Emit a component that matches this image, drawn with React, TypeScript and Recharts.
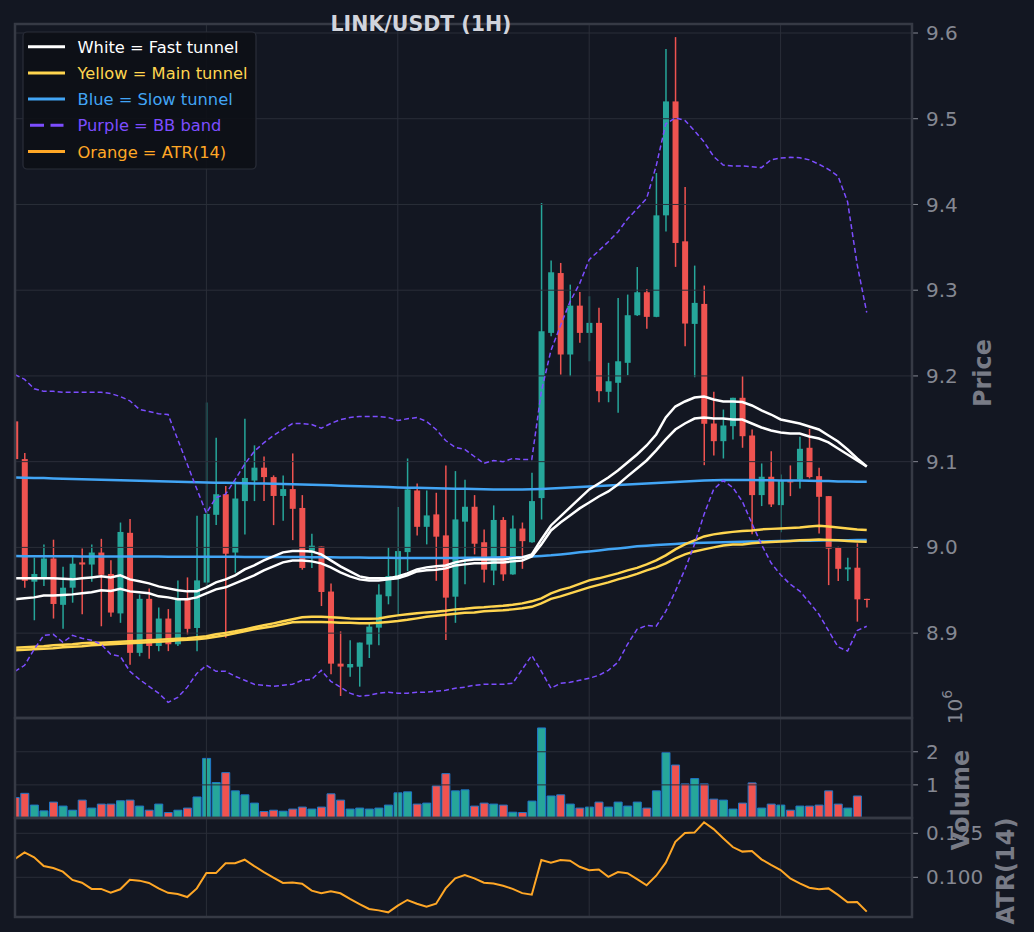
import React from 'react';
import { ComposedChart, Bar, Line, XAxis, YAxis, ReferenceLine, Cell } from 'recharts';

// hourly candles, index 0..89
const OPEN = [9.147, 9.103, 8.960, 8.9635, 8.987, 8.933, 8.953, 8.9825, 8.980, 8.994, 8.969, 8.923, 9.017, 8.877, 8.940, 8.885, 8.917, 8.887, 8.9405, 8.906, 8.959, 9.038, 9.062, 8.994, 9.054, 9.078, 9.093, 9.082, 9.060, 9.068, 9.046, 8.994, 9.001, 8.9485, 8.8644, 8.860, 8.8608, 8.8866, 8.9064, 8.943, 8.9635, 8.9945, 9.0664, 9.024, 9.0385, 9.014, 8.9425, 9.030, 9.0474, 9.006, 8.973, 9.032, 8.9685, 9.022, 9.006, 9.0575, 9.2502, 9.320, 9.225, 9.282, 9.2502, 9.2619, 9.1815, 9.192, 9.2153, 9.2708, 9.2976, 9.2689, 9.3873, 9.5202, 9.357, 9.2607, 9.284, 9.1445, 9.1239, 9.1414, 9.1745, 9.1305, 9.061, 9.0824, 9.0493, 9.0773, 9.0793, 9.1162, 9.0831, 9.0598, 8.9996, 8.9744, 8.9763, 8.940];
const HIGH = [9.152, 9.110, 8.988, 9.0035, 9.009, 8.9775, 8.990, 8.9988, 9.0035, 9.010, 8.985, 9.029, 9.033, 8.945, 8.952, 8.930, 8.928, 8.9615, 8.965, 9.037, 9.169, 9.128, 9.0715, 9.077, 9.150, 9.119, 9.106, 9.084, 9.084, 9.1096, 9.061, 9.016, 9.001, 8.958, 8.902, 8.8916, 8.889, 8.913, 8.957, 9.0004, 9.047, 9.1037, 9.0746, 9.0664, 9.0637, 9.0956, 9.089, 9.079, 9.061, 9.021, 9.049, 9.0353, 9.0373, 9.029, 9.087, 9.4017, 9.3345, 9.3318, 9.3065, 9.298, 9.2929, 9.2794, 9.2153, 9.291, 9.2949, 9.327, 9.3015, 9.4367, 9.5812, 9.5952, 9.4204, 9.3287, 9.3054, 9.1815, 9.1608, 9.1745, 9.1997, 9.1375, 9.0979, 9.1122, 9.085, 9.0956, 9.129, 9.1383, 9.0929, 9.0598, 9.0008, 8.988, 9.0047, 8.940];
const LOW = [9.098, 8.953, 8.915, 8.955, 8.917, 8.905, 8.9355, 8.922, 8.960, 8.908, 8.919, 8.912, 8.863, 8.873, 8.870, 8.879, 8.879, 8.885, 8.8986, 8.879, 8.955, 9.026, 8.8947, 8.9705, 9.015, 9.054, 9.054, 9.026, 9.031, 9.0085, 8.974, 8.976, 8.9316, 8.852, 8.8267, 8.849, 8.8376, 8.871, 8.8858, 8.9336, 8.920, 8.9724, 9.014, 9.0035, 8.961, 8.892, 8.912, 8.957, 8.9918, 8.959, 8.956, 8.961, 8.968, 8.975, 9.0055, 9.0326, 9.2463, 9.2016, 9.1997, 9.2386, 9.2171, 9.1693, 9.1693, 9.157, 9.2008, 9.270, 9.2549, 9.2685, 9.3686, 9.3272, 9.2346, 9.1985, 9.0959, 9.1072, 9.1037, 9.1259, 9.1162, 9.0152, 9.0482, 9.047, 9.0178, 9.0598, 9.0688, 9.0804, 9.0163, 8.956, 8.9607, 8.9607, 8.9134, 8.930];
const CLOSE = [9.103, 8.961, 8.969, 8.987, 8.934, 8.953, 8.981, 8.980, 8.994, 8.968, 8.924, 9.018, 8.877, 8.940, 8.885, 8.917, 8.887, 8.9405, 8.905, 8.9615, 9.039, 9.062, 8.9926, 9.057, 9.081, 9.093, 9.082, 9.060, 9.068, 9.045, 8.976, 9.002, 8.948, 8.8644, 8.861, 8.864, 8.889, 8.9076, 8.945, 8.9666, 8.9957, 9.0676, 9.024, 9.0373, 9.0125, 8.9414, 9.0326, 9.0474, 9.0043, 8.974, 9.032, 8.9685, 9.022, 9.0073, 9.054, 9.2521, 9.3209, 9.225, 9.282, 9.2502, 9.2619, 9.1822, 9.1938, 9.2171, 9.2708, 9.2976, 9.2689, 9.3873, 9.5202, 9.3551, 9.2611, 9.2852, 9.1442, 9.1239, 9.1422, 9.1745, 9.1297, 9.061, 9.0824, 9.0501, 9.0773, 9.0758, 9.115, 9.082, 9.059, 8.9985, 8.975, 8.9767, 8.9394, 8.9386];

// volume in millions
const VOLUME_M = [0.62, 0.745, 0.39, 0.215, 0.48, 0.36, 0.235, 0.54, 0.30, 0.42, 0.42, 0.52, 0.54, 0.36, 0.235, 0.42, 0.165, 0.235, 0.30, 0.635, 1.80, 1.07, 1.37, 0.82, 0.70, 0.45, 0.195, 0.235, 0.205, 0.27, 0.33, 0.27, 0.33, 0.73, 0.54, 0.27, 0.30, 0.27, 0.30, 0.39, 0.76, 0.79, 0.42, 0.45, 0.97, 1.34, 0.82, 0.85, 0.36, 0.45, 0.42, 0.39, 0.175, 0.165, 0.51, 2.72, 0.665, 0.70, 0.42, 0.30, 0.33, 0.48, 0.33, 0.48, 0.36, 0.48, 0.30, 0.82, 1.98, 1.60, 1.03, 1.19, 1.03, 0.57, 0.54, 0.27, 0.45, 1.06, 0.30, 0.42, 0.39, 0.235, 0.36, 0.36, 0.39, 0.82, 0.42, 0.30, 0.665, 0.01];

const ATR14 = [0.1104, 0.1142, 0.1114, 0.1064, 0.1053, 0.1032, 0.0985, 0.0969, 0.0934, 0.0934, 0.0912, 0.0932, 0.0986, 0.0981, 0.0968, 0.0937, 0.0912, 0.0905, 0.0888, 0.0937, 0.1024, 0.1024, 0.108, 0.108, 0.110, 0.1064, 0.103, 0.0998, 0.0968, 0.097, 0.0964, 0.0924, 0.091, 0.092, 0.0909, 0.0877, 0.0848, 0.082, 0.0812, 0.0801, 0.0839, 0.0871, 0.085, 0.0833, 0.085, 0.0937, 0.0994, 0.1013, 0.0994, 0.0969, 0.0965, 0.0952, 0.0934, 0.091, 0.0901, 0.1098, 0.1083, 0.1098, 0.1094, 0.106, 0.104, 0.1044, 0.1003, 0.103, 0.1023, 0.099, 0.0955, 0.1009, 0.1083, 0.1202, 0.1252, 0.1254, 0.1313, 0.1274, 0.1222, 0.1172, 0.1146, 0.115, 0.1102, 0.107, 0.1041, 0.0994, 0.0965, 0.0941, 0.0932, 0.0937, 0.090, 0.0858, 0.086, 0.0805];

const FAST_UP = [8.9639, 8.9639, 8.9639, 8.9639, 8.9639, 8.9633, 8.9627, 8.9639, 8.965, 8.9662, 8.965, 8.9674, 8.9627, 8.9604, 8.958, 8.9545, 8.9522, 8.950, 8.9487, 8.9487, 8.9534, 8.9592, 8.9627, 8.9674, 8.9744, 8.979, 8.9848, 8.9895, 8.9942, 8.9957, 8.9957, 8.9953, 8.9918, 8.9848, 8.9779, 8.972, 8.9662, 8.9639, 8.9639, 8.9639, 8.9662, 8.9697, 8.9744, 8.9767, 8.9779, 8.979, 8.9825, 8.9848, 8.986, 8.986, 8.986, 8.986, 8.9872, 8.9883, 8.9918, 9.0093, 9.0256, 9.0361, 9.0466, 9.0571, 9.0676, 9.0746, 9.0816, 9.0897, 9.0991, 9.1084, 9.1189, 9.1317, 9.1515, 9.1643, 9.1702, 9.1748, 9.176, 9.1725, 9.1702, 9.1702, 9.1696, 9.1655, 9.1597, 9.155, 9.1492, 9.1469, 9.1445, 9.141, 9.1375, 9.1305, 9.1235, 9.1142, 9.1037, 9.0944];
const FAST_LO = [8.9394, 8.9406, 8.9417, 8.944, 8.944, 8.9446, 8.9452, 8.9464, 8.9476, 8.950, 8.9491, 8.9516, 8.9487, 8.9476, 8.9464, 8.9429, 8.9417, 8.9394, 8.9394, 8.9417, 8.9464, 8.951, 8.9534, 8.958, 8.9627, 8.9674, 8.9732, 8.9779, 8.9825, 8.9848, 8.9848, 8.9837, 8.9814, 8.9767, 8.9709, 8.9662, 8.9627, 8.9615, 8.9615, 8.9627, 8.9639, 8.9674, 8.972, 8.9732, 8.9738, 8.9755, 8.979, 8.9802, 8.9814, 8.9814, 8.9825, 8.9825, 8.9837, 8.9848, 8.9895, 9.0035, 9.0198, 9.0291, 9.0373, 9.0455, 9.0524, 9.0594, 9.0653, 9.0734, 9.0828, 9.0921, 9.1014, 9.1131, 9.1259, 9.1375, 9.1445, 9.1503, 9.1515, 9.1503, 9.1503, 9.1492, 9.1492, 9.1445, 9.1399, 9.1364, 9.134, 9.1329, 9.1329, 9.1294, 9.127, 9.1224, 9.1154, 9.1084, 9.1014, 9.0944];
const MAIN_UP = [8.8829, 8.8834, 8.884, 8.8846, 8.8858, 8.8864, 8.887, 8.8881, 8.8887, 8.8887, 8.8893, 8.8899, 8.8904, 8.891, 8.8916, 8.8922, 8.8928, 8.8934, 8.894, 8.8951, 8.8963, 8.8986, 8.9003, 8.9021, 8.9044, 8.9068, 8.9091, 8.9114, 8.9138, 8.9161, 8.9184, 8.919, 8.919, 8.9184, 8.9178, 8.9172, 8.9169, 8.9169, 8.9172, 8.919, 8.9207, 8.9219, 8.9231, 8.9242, 8.9248, 8.926, 8.9277, 8.9283, 8.9295, 8.9301, 8.9312, 8.9318, 8.933, 8.9347, 8.9371, 8.9406, 8.9464, 8.9505, 8.9534, 8.9575, 8.9615, 8.9639, 8.9668, 8.9697, 8.9732, 8.9761, 8.9802, 8.9848, 8.9907, 8.9977, 9.0035, 9.0082, 9.0128, 9.0152, 9.0169, 9.0181, 9.0192, 9.0198, 9.021, 9.0216, 9.0221, 9.0227, 9.0233, 9.0245, 9.0251, 9.0245, 9.0233, 9.0221, 9.021, 9.0202];
const MAIN_LO = [8.880, 8.8805, 8.8811, 8.8817, 8.8823, 8.8834, 8.884, 8.8846, 8.8858, 8.8864, 8.887, 8.8875, 8.8881, 8.8887, 8.8893, 8.8899, 8.8904, 8.8916, 8.8922, 8.8928, 8.894, 8.8957, 8.8974, 8.8998, 8.9021, 8.9044, 8.9062, 8.908, 8.9103, 8.9126, 8.913, 8.913, 8.913, 8.9126, 8.9122, 8.912, 8.9114, 8.9114, 8.912, 8.9131, 8.9141, 8.9155, 8.9172, 8.919, 8.9202, 8.9213, 8.9225, 8.9237, 8.9242, 8.9254, 8.926, 8.9266, 8.9277, 8.9289, 8.9307, 8.9347, 8.940, 8.9429, 8.9464, 8.9499, 8.9534, 8.9563, 8.9592, 8.9627, 8.9656, 8.9691, 8.9732, 8.9767, 8.9814, 8.9872, 8.9918, 8.9953, 8.9977, 9.000, 9.0023, 9.0035, 9.0035, 9.0047, 9.0058, 9.0064, 9.007, 9.0076, 9.0082, 9.0087, 9.0093, 9.0087, 9.0082, 9.0076, 9.007, 9.0066];
const SLOW_UP = [9.0816, 9.0813, 9.081, 9.0808, 9.0804, 9.0802, 9.0798, 9.0796, 9.0793, 9.079, 9.0787, 9.0783, 9.0781, 9.0777, 9.0775, 9.0772, 9.0769, 9.0766, 9.0762, 9.076, 9.0758, 9.0755, 9.0753, 9.0751, 9.0748, 9.0746, 9.0744, 9.0741, 9.0739, 9.0737, 9.0734, 9.0732, 9.0728, 9.0725, 9.072, 9.0717, 9.0713, 9.071, 9.0706, 9.0703, 9.0699, 9.0697, 9.0695, 9.0692, 9.069, 9.0688, 9.0685, 9.0683, 9.0681, 9.0678, 9.0676, 9.0676, 9.0676, 9.0676, 9.0678, 9.0682, 9.0688, 9.0693, 9.0699, 9.0705, 9.0711, 9.0717, 9.0723, 9.0728, 9.0734, 9.074, 9.0746, 9.0752, 9.0758, 9.0763, 9.0769, 9.0775, 9.0781, 9.0784, 9.0787, 9.0787, 9.0787, 9.0786, 9.0784, 9.0783, 9.0781, 9.078, 9.0779, 9.0777, 9.0775, 9.0773, 9.077, 9.0769, 9.0767, 9.0766];
const SLOW_LO = [8.9899, 8.9898, 8.9898, 8.9897, 8.9897, 8.9896, 8.9896, 8.9895, 8.9895, 8.9895, 8.9895, 8.9894, 8.9894, 8.9893, 8.9893, 8.9893, 8.9892, 8.9892, 8.9892, 8.9891, 8.9891, 8.989, 8.989, 8.989, 8.9889, 8.9889, 8.9889, 8.9888, 8.9888, 8.9888, 8.9887, 8.9886, 8.9885, 8.9884, 8.9883, 8.9882, 8.9881, 8.988, 8.9879, 8.9878, 8.9877, 8.9877, 8.9876, 8.9876, 8.9876, 8.9876, 8.9877, 8.9878, 8.9879, 8.988, 8.9882, 8.9884, 8.9886, 8.9889, 8.9895, 8.9901, 8.9907, 8.9918, 8.993, 8.9942, 8.9953, 8.9965, 8.9977, 8.9988, 9.000, 9.0012, 9.002, 9.0027, 9.0035, 9.0041, 9.0047, 9.005, 9.0055, 9.0058, 9.0061, 9.0063, 9.0065, 9.0068, 9.007, 9.0072, 9.0075, 9.0076, 9.0077, 9.0078, 9.0079, 9.0082, 9.0083, 9.0084, 9.0085, 9.0085];
const BB_UP = [9.2016, 9.196, 9.185, 9.182, 9.182, 9.181, 9.181, 9.181, 9.181, 9.181, 9.1795, 9.176, 9.171, 9.161, 9.1585, 9.156, 9.155, 9.126, 9.097, 9.068, 9.040, 9.058, 9.062, 9.079, 9.097, 9.112, 9.122, 9.1305, 9.1375, 9.1445, 9.1445, 9.1434, 9.139, 9.1445, 9.149, 9.1515, 9.1527, 9.1527, 9.1527, 9.1515, 9.148, 9.150, 9.1515, 9.147, 9.1375, 9.1247, 9.1166, 9.1142, 9.106, 9.098, 9.1014, 9.100, 9.1037, 9.1026, 9.1026, 9.182, 9.2296, 9.2587, 9.2867, 9.3077, 9.3357, 9.346, 9.3566, 9.368, 9.383, 9.395, 9.407, 9.445, 9.494, 9.501, 9.498, 9.486, 9.473, 9.456, 9.446, 9.445, 9.445, 9.444, 9.443, 9.4522, 9.4542, 9.455, 9.4545, 9.452, 9.447, 9.441, 9.433, 9.403, 9.330, 9.274];
const BB_LO = [8.8555, 8.8625, 8.881, 8.8974, 8.8986, 8.8893, 8.8974, 8.894, 8.8916, 8.887, 8.8753, 8.873, 8.8555, 8.846, 8.838, 8.830, 8.8193, 8.825, 8.837, 8.853, 8.8625, 8.8555, 8.8555, 8.8497, 8.845, 8.8403, 8.8392, 8.838, 8.8392, 8.8403, 8.845, 8.846, 8.8566, 8.8438, 8.837, 8.830, 8.8263, 8.8275, 8.830, 8.831, 8.830, 8.830, 8.831, 8.831, 8.8322, 8.8333, 8.8357, 8.837, 8.8392, 8.8403, 8.8403, 8.8403, 8.8415, 8.8578, 8.874, 8.8555, 8.8357, 8.8415, 8.8427, 8.845, 8.8473, 8.8508, 8.8566, 8.866, 8.887, 8.9044, 8.909, 8.908, 8.9254, 8.9487, 8.9744, 9.0035, 9.0385, 9.0676, 9.078, 9.070, 9.0536, 9.028, 9.0035, 8.982, 8.968, 8.957, 8.949, 8.936, 8.922, 8.903, 8.884, 8.879, 8.903, 8.908];

const PRICE_TICKS = [8.9, 9.0, 9.1, 9.2, 9.3, 9.4, 9.5, 9.6];
const VOLUME_TICKS = [1, 2];
const ATR_TICKS = [0.1, 0.125];
const GRID_X = [20, 40, 60, 80];

const LEGEND = [
  { label: 'White = Fast tunnel', color: '#ffffff', dash: false },
  { label: 'Yellow = Main tunnel', color: '#ffd54f', dash: false },
  { label: 'Blue = Slow tunnel', color: '#42a5f5', dash: false },
  { label: 'Purple = BB band', color: '#7c4dff', dash: true },
  { label: 'Orange = ATR(14)', color: '#ffa726', dash: false },
];

const BG = '#131722';
const GRID = '#2a2e39';
const SPINE = '#363a45';
const TICK = '#858892';
const LABEL = '#787b86';
const UP = '#26a69a';
const DOWN = '#ef5350';
const FONT = 'DejaVu Sans';

const rows = OPEN.map((o, i) => ({
  i,
  o,
  h: HIGH[i],
  l: LOW[i],
  c: CLOSE[i],
  range: [LOW[i], HIGH[i]],
  vol: VOLUME_M[i],
  atr: ATR14[i],
  fastUp: FAST_UP[i],
  fastLo: FAST_LO[i],
  mainUp: MAIN_UP[i],
  mainLo: MAIN_LO[i],
  slowUp: SLOW_UP[i],
  slowLo: SLOW_LO[i],
  bbUp: BB_UP[i],
  bbLo: BB_LO[i],
}));

const X_DOMAIN: [number, number] = [0, 93.73];

const Candle = (props: any) => {
  const { x, y, width, height, payload } = props;
  const { o, c, h, l } = payload;
  const color = c >= o ? UP : DOWN;
  const k = height / (h - l);
  const top = y + (h - Math.max(o, c)) * k;
  const bodyH = Math.max(Math.abs(o - c) * k, 1.2);
  const cx = x + width / 2;
  return (
    <g>
      <line x1={cx} x2={cx} y1={y} y2={y + height} stroke={color} strokeWidth={1.5} />
      <rect x={x} y={top} width={width} height={bodyH} fill={color} />
    </g>
  );
};

const tickStyle = { fill: TICK, fontSize: 20, fontFamily: FONT };

const gridLines = (ticks: number[]) => (
  <>
    {GRID_X.map(v => <ReferenceLine key={'x' + v} x={v} stroke={GRID} strokeWidth={1} />)}
    {ticks.map(v => <ReferenceLine key={'y' + v} y={v} stroke={GRID} strokeWidth={1} />)}
  </>
);

const App = () => {
  return (
    <div style={{ position: 'absolute', left: 0, top: 0, width: 1034, height: 932, background: BG, overflow: 'hidden' }}>
      {/* price panel */}
      <div style={{ position: 'absolute', left: 0, top: 0 }}>
        <ComposedChart width={1034} height={718} data={rows} margin={{ top: 24, right: 0, bottom: 0, left: 15 }}>
          <XAxis dataKey="i" type="number" domain={X_DOMAIN} allowDataOverflow hide />
          <YAxis orientation="right" width={122} domain={[8.801, 9.6105]} allowDataOverflow ticks={PRICE_TICKS} interval={0}
            tick={tickStyle} tickLine={{ stroke: TICK }} axisLine={false} tickSize={6} tickMargin={8}
            tickFormatter={(v: number) => v.toFixed(1)} />
          {gridLines(PRICE_TICKS)}
          <Bar dataKey="range" barSize={6} shape={Candle} isAnimationActive={false} />
          <Line dataKey="slowUp" type="linear" stroke="#42a5f5" strokeWidth={2.5} dot={false} isAnimationActive={false} />
          <Line dataKey="slowLo" type="linear" stroke="#42a5f5" strokeWidth={2.5} dot={false} isAnimationActive={false} />
          <Line dataKey="mainUp" type="linear" stroke="#ffd54f" strokeWidth={2.5} dot={false} isAnimationActive={false} />
          <Line dataKey="mainLo" type="linear" stroke="#ffd54f" strokeWidth={2.5} dot={false} isAnimationActive={false} />
          <Line dataKey="fastUp" type="linear" stroke="#ffffff" strokeWidth={2.5} dot={false} isAnimationActive={false} />
          <Line dataKey="fastLo" type="linear" stroke="#ffffff" strokeWidth={2.5} dot={false} isAnimationActive={false} />
          <Line dataKey="bbUp" type="linear" stroke="#7c4dff" strokeWidth={1.5} strokeDasharray="5 3" dot={false} isAnimationActive={false} />
          <Line dataKey="bbLo" type="linear" stroke="#7c4dff" strokeWidth={1.5} strokeDasharray="5 3" dot={false} isAnimationActive={false} />
        </ComposedChart>
      </div>

      {/* volume panel */}
      <div style={{ position: 'absolute', left: 0, top: 718 }}>
        <ComposedChart width={1034} height={100} data={rows} margin={{ top: 0, right: 0, bottom: 0, left: 15 }}>
          <XAxis dataKey="i" type="number" domain={X_DOMAIN} allowDataOverflow hide />
          <YAxis orientation="right" width={122} domain={[0, 3.02]} allowDataOverflow ticks={VOLUME_TICKS} interval={0}
            tick={tickStyle} tickLine={{ stroke: TICK }} axisLine={false} tickSize={6} tickMargin={8} />
          {gridLines(VOLUME_TICKS)}
          <Bar dataKey="vol" barSize={8} stroke="#1f77c8" strokeWidth={1} isAnimationActive={false}>
            {rows.map(r => <Cell key={r.i} fill={r.c >= r.o ? UP : DOWN} />)}
          </Bar>
        </ComposedChart>
      </div>

      {/* ATR panel */}
      <div style={{ position: 'absolute', left: 0, top: 818 }}>
        <ComposedChart width={1034} height={99} data={rows} margin={{ top: 0, right: 0, bottom: 0, left: 15 }}>
          <XAxis dataKey="i" type="number" domain={X_DOMAIN} allowDataOverflow hide />
          <YAxis orientation="right" width={122} domain={[0.07744, 0.1337]} allowDataOverflow ticks={ATR_TICKS} interval={0}
            tick={tickStyle} tickLine={{ stroke: TICK }} axisLine={false} tickSize={6} tickMargin={8}
            tickFormatter={(v: number) => v.toFixed(3)} />
          {gridLines(ATR_TICKS)}
          <Line dataKey="atr" type="linear" stroke="#ffa726" strokeWidth={2} dot={false} isAnimationActive={false} />
        </ComposedChart>
      </div>

      {/* frame, title, legend and axis labels */}
      <svg width={1034} height={932} style={{ position: 'absolute', left: 0, top: 0, pointerEvents: 'none' }} fontFamily={FONT}>
        <rect x={15} y={24} width={897} height={694} fill="none" stroke={SPINE} strokeWidth={2.5} />
        <rect x={15} y={718} width={897} height={100} fill="none" stroke={SPINE} strokeWidth={2.5} />
        <rect x={15} y={818} width={897} height={99} fill="none" stroke={SPINE} strokeWidth={2.5} />

        <text x={421} y={31} textAnchor="middle" fontSize={20.5} fontWeight="bold" fill="#d1d4dc">LINK/USDT (1H)</text>

        <rect x={23} y={32} width={233} height={137} rx={4} fill="#0d1016" fillOpacity={0.9} stroke="#2a2e39" strokeWidth={1.2} />
        {LEGEND.map((e, k) => {
          const cy = 46.7 + k * 26.2;
          return (
            <g key={e.label}>
              {e.dash
                ? <line x1={30} x2={63.5} y1={cy} y2={cy} stroke={e.color} strokeWidth={3} strokeDasharray="14 6.5" />
                : <line x1={28} x2={65} y1={cy} y2={cy} stroke={e.color} strokeWidth={3} />}
              <text x={77.5} y={cy + 6} fontSize={16.3} fill={e.color}>{e.label}</text>
            </g>
          );
        })}

        <text transform="translate(983 373) rotate(-90)" textAnchor="middle" dominantBaseline="central" fontSize={24} fontWeight="bold" fill={LABEL}>Price</text>
        <text transform="translate(961 800) rotate(-90)" textAnchor="middle" dominantBaseline="central" fontSize={24} fontWeight="bold" fill={LABEL}>Volume</text>
        <text transform="translate(1006 871) rotate(-90)" textAnchor="middle" dominantBaseline="central" fontSize={24} fontWeight="bold" fill={LABEL}>ATR(14)</text>
        <text transform="translate(955 707) rotate(-90)" textAnchor="middle" dominantBaseline="central" fontSize={20} fill={TICK}>
          10<tspan fontSize={14} dy={-8}>6</tspan>
        </text>
      </svg>
    </div>
  );
};

export default App;
